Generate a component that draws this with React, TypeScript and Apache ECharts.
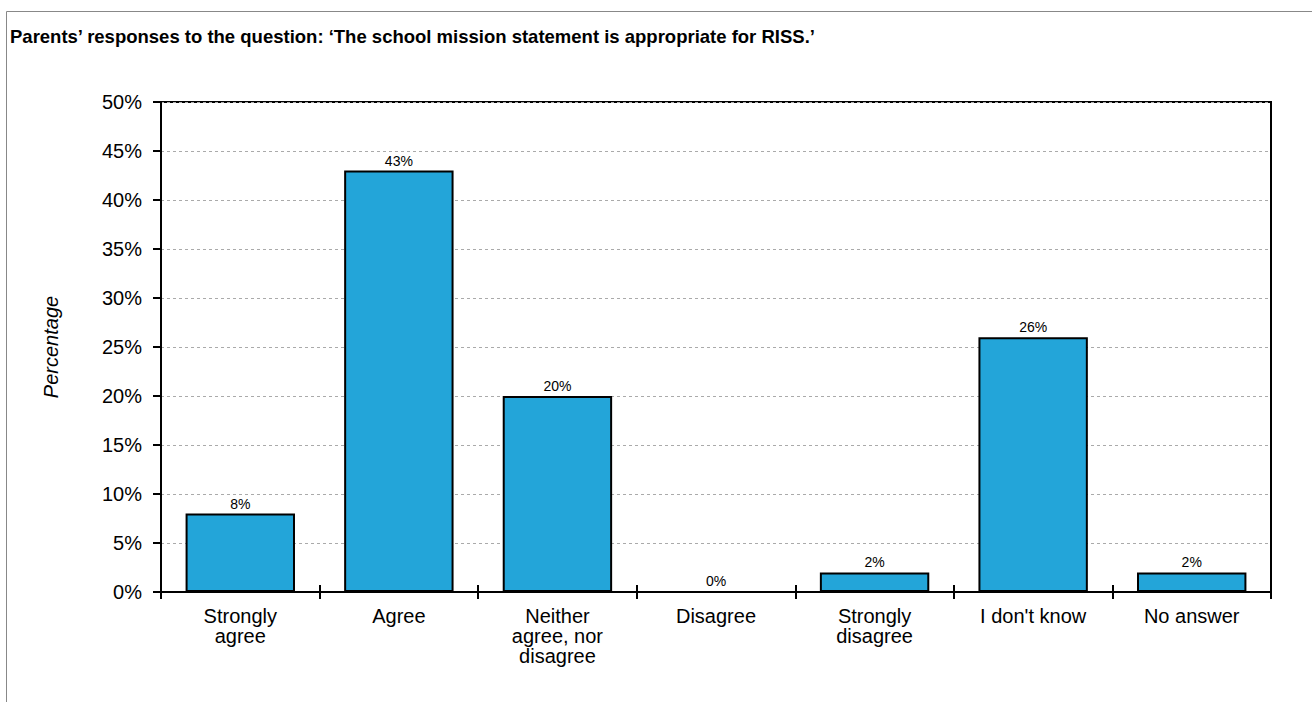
import React, { useEffect, useRef } from "react";
import * as echarts from "echarts";

const titleText = "Parents’ responses to the question: ‘The school mission statement is appropriate for RISS.’";
const categories = [
  "Strongly\nagree",
  "Agree",
  "Neither\nagree, nor\ndisagree",
  "Disagree",
  "Strongly\ndisagree",
  "I don't know",
  "No answer",
];
const values = [8, 43, 20, 0, 2, 26, 2];
const yAxisName = "Percentage";
const yMin = 0;
const yMax = 50;
const yInterval = 5;

const FONT = "'Liberation Sans', Arial, Helvetica, sans-serif";

export default function App() {
  const ref = useRef<HTMLDivElement>(null);
  useEffect(() => {
    if (!ref.current) return;
    const chart = echarts.init(ref.current, null, { renderer: "svg" });
    chart.setOption({
      animation: false,
      backgroundColor: "#fff",
      textStyle: { fontFamily: FONT, color: "#000" },
      title: {
        text: titleText,
        left: 10,
        top: 27,
        padding: 0,
        textStyle: { fontFamily: FONT, fontSize: 18.5, fontWeight: "bold", color: "#000" },
      },
      graphic: [
        {
          type: "rect",
          shape: { x: 6.5, y: 11.5, width: 1400, height: 800 },
          style: { fill: "none", stroke: "#888", lineWidth: 1 },
          silent: true,
          z: -1,
        },
      ],
      grid: {
        left: 161,
        right: 41,
        top: 102,
        bottom: 110,
        show: true,
        borderColor: "#000",
        borderWidth: 2,
        backgroundColor: "transparent",
      },
      xAxis: [
        {
          type: "category",
          data: categories,
          position: "bottom",
          axisLine: { show: true, lineStyle: { color: "#000", width: 2 } },
          axisTick: { show: true, inside: false, length: 7, lineStyle: { color: "#000", width: 2 } },
          axisLabel: {
            fontSize: 20,
            lineHeight: 20,
            margin: 14,
            color: "#000",
            fontFamily: FONT,
            interval: 0,
          },
        },
        {
          type: "category",
          data: categories,
          position: "bottom",
          axisLine: { show: false },
          axisTick: { show: true, inside: true, length: 7, lineStyle: { color: "#000", width: 2 } },
          axisLabel: { show: false },
          splitLine: { show: false },
        },
      ],
      yAxis: {
        type: "value",
        min: yMin,
        max: yMax,
        interval: yInterval,
        name: yAxisName,
        nameLocation: "middle",
        nameRotate: 90,
        nameGap: 100,
        nameTextStyle: { fontSize: 20, fontStyle: "italic", color: "#000", fontFamily: FONT },
        axisLine: { show: true, lineStyle: { color: "#000", width: 2 } },
        axisTick: { show: true, inside: false, length: 8, lineStyle: { color: "#000", width: 2 } },
        axisLabel: {
          fontSize: 20,
          margin: 19,
          color: "#000",
          fontFamily: FONT,
          formatter: "{value}%",
        },
        splitLine: { show: true, lineStyle: { color: "#aaa", type: [3, 3], width: 1 } },
      },
      series: [
        {
          type: "bar",
          data: values,
          xAxisIndex: 0,
          barCategoryGap: "31%",
          itemStyle: { color: "#23a5d9", borderColor: "#000", borderWidth: 2 },
          label: {
            show: true,
            position: "top",
            distance: 3,
            fontSize: 14,
            color: "#000",
            fontFamily: FONT,
            formatter: "{c}%",
          },
        },
      ],
    });
    return () => chart.dispose();
  }, []);
  return (
    <div
      ref={ref}
      style={{ position: "absolute", left: 0, top: 0, width: 1312, height: 702 }}
    />
  );
}
